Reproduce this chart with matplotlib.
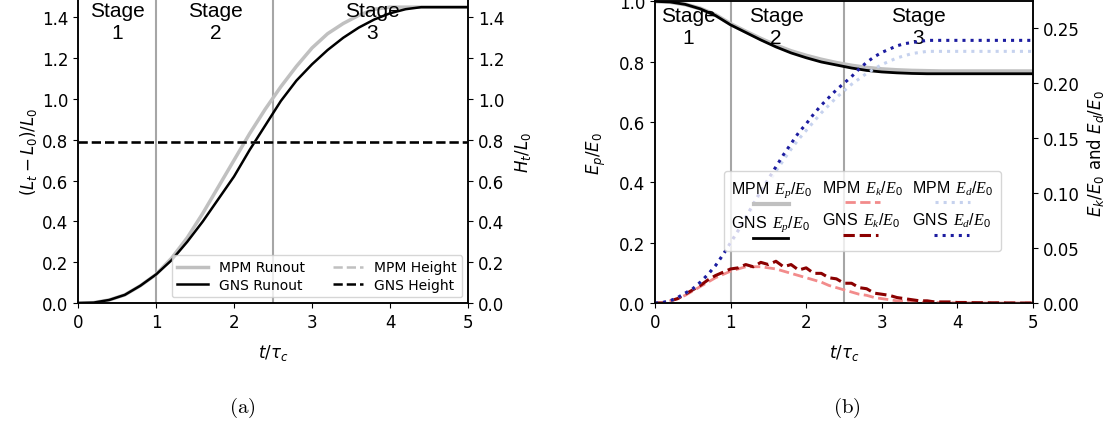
import numpy as np
import matplotlib
matplotlib.use("Agg")
import matplotlib.pyplot as plt
from matplotlib.offsetbox import VPacker

# ---- data ----
t_run = [0.0, 0.2, 0.4, 0.6, 0.8, 1.0, 1.2, 1.4, 1.6, 1.8, 2.0, 2.2, 2.4,
         2.6, 2.8, 3.0, 3.2, 3.4, 3.6, 3.8, 4.0, 4.2, 4.4, 4.6, 4.8, 5.0]
gns_runout = [0.0, 0.002, 0.015, 0.04, 0.085, 0.14, 0.21, 0.30, 0.40, 0.51, 0.62,
              0.75, 0.87, 0.99, 1.09, 1.17, 1.24, 1.30, 1.35, 1.39, 1.42, 1.44,
              1.45, 1.45, 1.45, 1.45]
mpm_runout = [0.0, 0.002, 0.015, 0.04, 0.085, 0.14, 0.22, 0.32, 0.44, 0.57, 0.70,
              0.83, 0.95, 1.06, 1.16, 1.25, 1.32, 1.37, 1.41, 1.44, 1.45, 1.45,
              1.45, 1.45, 1.45, 1.45]
gns_height = [0.79] * len(t_run)
mpm_height = [0.79] * len(t_run)

gns_ep = [1.0, 0.998, 0.99, 0.975, 0.953, 0.922, 0.897, 0.872, 0.849, 0.829, 0.813,
          0.799, 0.789, 0.779, 0.771, 0.766, 0.763, 0.761, 0.760, 0.760, 0.760,
          0.760, 0.760, 0.760, 0.760, 0.760]
mpm_ep = [1.0, 0.998, 0.99, 0.976, 0.955, 0.925, 0.900, 0.876, 0.854, 0.835, 0.820,
          0.807, 0.796, 0.787, 0.780, 0.775, 0.772, 0.770, 0.769, 0.768, 0.768,
          0.768, 0.768, 0.768, 0.768, 0.768]

t_e = np.round(np.arange(0, 5.01, 0.1), 1)
gns_ek = [0.0, 0.0, 0.002, 0.004, 0.008, 0.012, 0.016, 0.021, 0.025, 0.028, 0.031,
          0.032, 0.035, 0.033, 0.037, 0.035, 0.038, 0.033, 0.035, 0.030, 0.032,
          0.027, 0.027, 0.023, 0.022, 0.018, 0.018, 0.014, 0.013, 0.009, 0.008,
          0.007, 0.005, 0.004, 0.003, 0.002, 0.002, 0.001, 0.001, 0.001, 0.0005,
          0.0005, 0.0003, 0.0003, 0.0002, 0.0002, 0.0001, 0.0001, 0.0, 0.0, 0.0]
mpm_ek = [0.0, 0.0, 0.002, 0.004, 0.007, 0.011, 0.015, 0.019, 0.023, 0.026, 0.029,
          0.031, 0.033, 0.033, 0.033, 0.032, 0.031, 0.029, 0.027, 0.025, 0.023,
          0.021, 0.019, 0.016, 0.014, 0.012, 0.010, 0.008, 0.007, 0.005, 0.004,
          0.003, 0.002, 0.002, 0.001, 0.001, 0.0005, 0.0005, 0.0003, 0.0003, 0.0002,
          0.0002, 0.0001, 0.0001, 0.0, 0.0, 0.0, 0.0, 0.0, 0.0, 0.0]
gns_ed = [0.0, 0.0005, 0.002, 0.005, 0.009, 0.013, 0.019, 0.026, 0.034, 0.044, 0.055,
          0.066, 0.078, 0.090, 0.102, 0.113, 0.124, 0.135, 0.145, 0.155, 0.163,
          0.172, 0.180, 0.187, 0.194, 0.200, 0.206, 0.213, 0.219, 0.224, 0.228,
          0.231, 0.234, 0.236, 0.237, 0.238, 0.239, 0.239, 0.239, 0.239, 0.239,
          0.239, 0.239, 0.239, 0.239, 0.239, 0.239, 0.239, 0.239, 0.239, 0.239]
mpm_ed = [0.0, 0.0005, 0.002, 0.005, 0.009, 0.013, 0.019, 0.026, 0.034, 0.044, 0.054,
          0.065, 0.077, 0.088, 0.099, 0.110, 0.120, 0.130, 0.140, 0.149, 0.157,
          0.165, 0.173, 0.180, 0.187, 0.193, 0.199, 0.204, 0.209, 0.213, 0.217,
          0.220, 0.223, 0.225, 0.227, 0.228, 0.229, 0.229, 0.229, 0.229, 0.229,
          0.229, 0.229, 0.229, 0.229, 0.229, 0.229, 0.229, 0.229, 0.229, 0.229]

stage_bounds = [1.0, 2.5]
stage_labels = ["Stage\n1", "Stage\n2", "Stage\n3"]
stage_x_a = [0.5, 1.76, 3.77]
stage_x_b = [0.44, 1.6, 3.48]

plt.rcParams['font.size'] = 12
plt.rcParams['axes.linewidth'] = 1.1
# serif italic maths with sans text, for the energy legend
plt.rcParams['mathtext.rm'] = 'Liberation Sans'
plt.rcParams['mathtext.it'] = 'Liberation Serif:italic'

fig = plt.figure(figsize=(11.13, 4.27), dpi=100)

# ---------------- (a) ----------------
ax1 = fig.add_axes([0.0701, 0.288, 0.3504, 0.712])
ax1b = ax1.twinx()
for b in stage_bounds:
    ax1.axvline(b, color='#a6a6a6', lw=1.5)
l1, = ax1.plot(t_run, mpm_runout, color='#c0c0c0', lw=2.5, label='MPM Runout')
l2, = ax1.plot(t_run, gns_runout, color='black', lw=1.8, label='GNS Runout')
l3, = ax1b.plot(t_run, mpm_height, color='#c0c0c0', lw=1.8, ls='--', label='MPM Height')
l4, = ax1b.plot(t_run, gns_height, color='black', lw=1.8, ls='--', label='GNS Height')
for ax in (ax1, ax1b):
    ax.set_ylim(0, 1.49)
    ax.set_yticks(np.arange(0, 1.41, 0.2))
ax1.set_xlim(0, 5)
ax1.set_xlabel(r'$t/\tau_c$', labelpad=8)
ax1.set_ylabel(r'$(L_t - L_0)/L_0$', labelpad=2)
ax1b.set_ylabel(r'$H_t/L_0$', labelpad=6)
for x, s in zip(stage_x_a, stage_labels):
    ax1.text(x, 0.993, s, transform=ax1.get_xaxis_transform(), ha='center', va='top',
             fontsize=15, family='Liberation Sans', linespacing=1.2)
ax1b.legend([l1, l2, l3, l4], [h.get_label() for h in [l1, l2, l3, l4]], ncol=2,
            loc='lower right', fontsize=10, handlelength=2.2, columnspacing=2.0,
            labelspacing=0.25, borderaxespad=0.4)

# ---------------- (b) ----------------
ax2 = fig.add_axes([0.5885, 0.288, 0.3396, 0.7065])
ax2b = ax2.twinx()
for b in stage_bounds:
    ax2.axvline(b, color='#a6a6a6', lw=1.5)
e1, = ax2.plot(t_run, mpm_ep, color='#c0c0c0', lw=3, label=r'MPM $\,E_p/E_0$')
e2, = ax2.plot(t_run, gns_ep, color='black', lw=2, label=r'GNS $\,E_p/E_0$')
e3, = ax2b.plot(t_e, mpm_ek, color='#f28b8b', lw=2, ls='--', label=r'MPM $\,E_k/E_0$')
e4, = ax2b.plot(t_e, gns_ek, color='#8b0000', lw=2.2, ls='--', label=r'GNS $\,E_k/E_0$')
e5, = ax2b.plot(t_e, mpm_ed, color='#c6d2ee', lw=2.2, ls=':', label=r'MPM $\,E_d/E_0$')
e6, = ax2b.plot(t_e, gns_ed, color='#1c1ca0', lw=2.2, ls=':', label=r'GNS $\,E_d/E_0$')
ax2.set_xlim(0, 5)
ax2.set_ylim(0, 1.0)
ax2b.set_ylim(0, 0.2745)
ax2b.set_yticks(np.arange(0, 0.251, 0.05))
ax2.set_xlabel(r'$t/\tau_c$', labelpad=8)
ax2.set_ylabel(r'$E_p/E_0$', labelpad=8)
ax2b.set_ylabel(r'$E_k/E_0$ and $E_d/E_0$', labelpad=4)
for x, s in zip(stage_x_b, stage_labels):
    ax2.text(x, 0.985, s, transform=ax2.get_xaxis_transform(), ha='center', va='top',
             fontsize=15, family='Liberation Sans', linespacing=1.2)

hs = [e1, e2, e3, e4, e5, e6]
leg = ax2b.legend(hs, [h.get_label() for h in hs], ncol=3, loc='center',
                  bbox_to_anchor=(0.548, 0.305), fontsize=11.5, handlelength=2.2,
                  columnspacing=0.6, labelspacing=0.2, borderpad=0.45)
for txt in leg.get_texts():
    txt.set_family('Liberation Sans')
    txt.set_math_fontfamily('custom')
# put each label above its handle
for col in leg._legend_handle_box.get_children():
    new_items = []
    for item in col.get_children():
        h, t = item.get_children()
        vp = VPacker(pad=0, sep=0, align='center', children=[t, h])
        vp.set_figure(fig)
        new_items.append(vp)
    col._children = new_items

fig.text(0.218, 0.045, r'$\mathrm{(a)}$', ha='center', va='center', fontsize=15,
         math_fontfamily='cm')
fig.text(0.761, 0.045, r'$\mathrm{(b)}$', ha='center', va='center', fontsize=15,
         math_fontfamily='cm')

fig.savefig('out.png', dpi=100)
